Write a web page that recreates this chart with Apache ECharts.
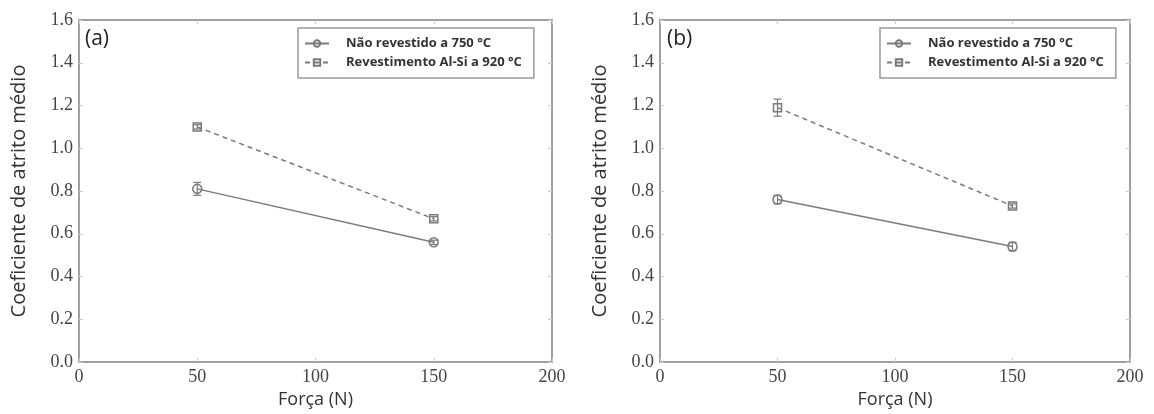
<!DOCTYPE html>
<html>
<head>
<meta charset="utf-8">
<script src="https://cdn.jsdelivr.net/npm/echarts@6/dist/echarts.min.js"></script>
<style>
  html, body { margin: 0; padding: 0; background: #fff; }
  #chart { width: 1154px; height: 414px; }
</style>
</head>
<body>
<div id="chart"></div>
<script>
// forces (N)
const forces = [50, 150];
const seriesNames = ['Não revestido a 750 °C', 'Revestimento Al-Si a 920 °C'];
// panel (a)
const uncoatedA = [0.81, 0.56];
const uncoatedErrA = [0.03, 0.01];
const coatedA = [1.10, 0.67];
const coatedErrA = [0.01, 0.01];
// panel (b)
const uncoatedB = [0.76, 0.54];
const uncoatedErrB = [0.02, 0.02];
const coatedB = [1.19, 0.73];
const coatedErrB = [0.04, 0.01];

const grey = '#7a7a7a';
const spine = '#a0a0a0';

const chart = echarts.init(document.getElementById('chart'));

function pts(vals) {
    return forces.map((f, i) => [f, vals[i]]);
}
function errs(vals, e) {
    return forces.map((f, i) => [f, vals[i] - e[i], vals[i] + e[i]]);
}

function errorSeries(gi, vals, e) {
    return {
        type: 'custom',
        xAxisIndex: gi * 2,
        yAxisIndex: gi * 2,
        data: errs(vals, e),
        z: 5,
        silent: true,
        renderItem: function (params, api) {
            const lo = api.coord([api.value(0), api.value(1)]);
            const hi = api.coord([api.value(0), api.value(2)]);
            const w = 4;
            const st = { stroke: grey, lineWidth: 1.2 };
            return {
                type: 'group',
                children: [
                    { type: 'line', shape: { x1: lo[0], y1: lo[1], x2: hi[0], y2: hi[1] }, style: st },
                    { type: 'line', shape: { x1: lo[0] - w, y1: lo[1], x2: lo[0] + w, y2: lo[1] }, style: st },
                    { type: 'line', shape: { x1: hi[0] - w, y1: hi[1], x2: hi[0] + w, y2: hi[1] }, style: st }
                ]
            };
        }
    };
}

function lineSeries(gi, name, vals, dashed) {
    return {
        name: name,
        type: 'line',
        xAxisIndex: gi * 2,
        yAxisIndex: gi * 2,
        data: pts(vals),
        symbol: dashed ? 'rect' : 'circle',
        symbolSize: dashed ? 8 : 9,
        showSymbol: true,
        z: 4,
        lineStyle: { color: grey, width: 1.5, type: dashed ? [5, 4] : 'solid' },
        itemStyle: { color: 'rgba(255,255,255,0)', borderColor: grey, borderWidth: 1.5 },
        emphasis: { disabled: true },
        animation: false
    };
}

const grids = [
    { left: 79, top: 20, width: 473, height: 352 },
    { left: 660, top: 20, width: 470, height: 352 }
];

const xAxes = [];
const yAxes = [];
grids.forEach((g, gi) => {
    xAxes.push({
        type: 'value', gridIndex: gi, min: 0, max: 200, interval: 50,
        name: 'Força (N)', nameLocation: 'middle', nameGap: 29,
        nameTextStyle: { fontFamily: 'Open Sans', fontSize: 18, color: '#333' },
        axisLine: { onZero: false, lineStyle: { color: spine, width: 2 } },
        axisTick: { inside: true, length: 4, lineStyle: { color: '#ccc' } },
        axisLabel: { fontFamily: 'Liberation Serif', fontSize: 18, color: '#444', margin: 6 },
        splitLine: { show: false }
    });
    xAxes.push({
        type: 'value', gridIndex: gi, min: 0, max: 200, interval: 50, position: 'top',
        axisLine: { onZero: false, lineStyle: { color: spine, width: 2 } },
        axisTick: { inside: true, length: 4, lineStyle: { color: '#ccc' } },
        axisLabel: { show: false },
        splitLine: { show: false }
    });
    yAxes.push({
        type: 'value', gridIndex: gi, min: 0, max: 1.6, interval: 0.2,
        name: 'Coeficiente de atrito médio', nameLocation: 'middle', nameGap: 50,
        nameTextStyle: { fontFamily: 'Open Sans', fontSize: 20, color: '#333' },
        axisLine: { show: true, onZero: false, lineStyle: { color: spine, width: 2 } },
        axisTick: { show: true, inside: true, length: 4, lineStyle: { color: '#ccc' } },
        axisLabel: {
            fontFamily: 'Liberation Serif', fontSize: 18, color: '#444', margin: 6,
            formatter: v => v.toFixed(1)
        },
        splitLine: { show: false }
    });
    yAxes.push({
        type: 'value', gridIndex: gi, min: 0, max: 1.6, interval: 0.2, position: 'right',
        axisLine: { show: true, onZero: false, lineStyle: { color: spine, width: 2 } },
        axisTick: { show: true, inside: true, length: 4, lineStyle: { color: '#ccc' } },
        axisLabel: { show: false },
        splitLine: { show: false }
    });
});

const legendBase = {
    orient: 'vertical',
    data: seriesNames,
    backgroundColor: '#fff',
    borderColor: '#999',
    borderWidth: 1.5,
    borderRadius: 0,
    padding: [9, 12, 9, 6],
    itemGap: 6,
    itemWidth: 24,
    itemHeight: 8,
    selectedMode: false,
    textStyle: { fontFamily: 'Open Sans', fontSize: 13, fontWeight: 'bold', color: '#333', padding: [0, 0, 0, 12] }
};

chart.setOption({
    animation: false,
    grid: grids,
    xAxis: xAxes,
    yAxis: yAxes,
    legend: [
        Object.assign({}, legendBase, { left: 298, top: 28 }),
        Object.assign({}, legendBase, { left: 880, top: 28 })
    ],
    graphic: [
        { type: 'text', left: 85, top: 29, style: { text: '(a)', fontFamily: 'Open Sans', fontSize: 21, fill: '#222' } },
        { type: 'text', left: 667, top: 29, style: { text: '(b)', fontFamily: 'Open Sans', fontSize: 21, fill: '#222' } }
    ],
    series: [
        errorSeries(0, uncoatedA, uncoatedErrA),
        errorSeries(0, coatedA, coatedErrA),
        lineSeries(0, seriesNames[0], uncoatedA, false),
        lineSeries(0, seriesNames[1], coatedA, true),
        errorSeries(1, uncoatedB, uncoatedErrB),
        errorSeries(1, coatedB, coatedErrB),
        lineSeries(1, seriesNames[0], uncoatedB, false),
        lineSeries(1, seriesNames[1], coatedB, true)
    ]
});
</script>
</body>
</html>
